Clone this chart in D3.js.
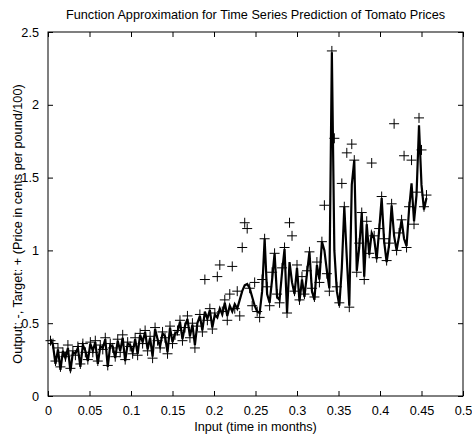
<!DOCTYPE html>
<html>
<head>
<meta charset="utf-8">
<script src="https://cdn.jsdelivr.net/npm/d3@7"></script>
<style>
body { margin: 0; background: #fff; }
text { font-family: "Liberation Sans", Arial, sans-serif; fill: #000; }
</style>
</head>
<body>
<div id="chart"></div>
<script>
// input (time in months)
var inputX = [
	0.003,0.006,0.009,0.012,0.015,0.018,0.021,0.024,0.027,0.030,0.033,0.036,0.039,0.042,0.045,0.048,0.051,
	0.054,0.057,0.060,0.063,0.066,0.069,0.072,0.075,0.078,0.081,0.084,0.087,0.090,0.093,0.096,0.099,0.102,
	0.105,0.108,0.111,0.114,0.117,0.120,0.123,0.126,0.129,0.132,0.135,0.138,0.141,0.144,0.147,0.150,0.153,
	0.156,0.159,0.162,0.165,0.168,0.171,0.174,0.177,0.180,0.183,0.186,0.189,0.192,0.195,0.198,0.201,0.204,
	0.207,0.210,0.213,0.216,0.219,0.222,0.225,0.228,0.231,0.234,0.237,0.240,0.243,0.246,0.249,0.252,0.255,
	0.258,0.261,0.264,0.267,0.270,0.273,0.276,0.279,0.282,0.285,0.288,0.291,0.294,0.297,0.300,0.303,0.306,
	0.309,0.312,0.315,0.318,0.321,0.324,0.327,0.330,0.333,0.336,0.339,0.342,0.345,0.348,0.351,0.354,0.357,
	0.360,0.363,0.366,0.369,0.372,0.375,0.378,0.381,0.384,0.387,0.390,0.393,0.396,0.399,0.402,0.405,0.408,
	0.411,0.414,0.417,0.420,0.423,0.426,0.429,0.432,0.435,0.438,0.441,0.444,0.447,0.450,0.453,0.456
];

// target (+)
var targetY = [
	0.38,0.36,0.24,0.33,0.20,0.30,0.27,0.35,0.19,0.31,0.28,0.34,0.22,0.36,0.30,0.25,0.37,
	0.30,0.38,0.24,0.35,0.32,0.40,0.21,0.36,0.33,0.27,0.39,0.30,0.42,0.25,0.37,0.34,0.29,
	0.40,0.28,0.43,0.36,0.45,0.31,0.41,0.26,0.47,0.38,0.33,0.44,0.40,0.29,0.48,0.36,0.42,
	0.45,0.52,0.38,0.47,0.55,0.40,0.50,0.33,0.48,0.56,0.44,0.80,0.52,0.60,0.46,0.57,0.82,
	0.90,0.58,0.66,0.52,0.70,0.89,0.60,0.72,0.55,1.02,1.19,1.15,0.74,0.62,0.78,0.58,0.54,
	0.80,1.08,0.75,0.62,0.85,0.98,0.70,0.64,0.88,1.02,0.57,1.19,1.10,0.72,0.90,0.66,0.82,
	0.70,0.86,0.99,0.74,0.68,0.92,0.78,1.06,1.31,0.84,0.72,2.37,1.77,0.75,0.64,1.46,1.30,
	1.67,0.61,1.73,1.62,0.85,1.05,1.26,0.80,1.20,0.98,1.60,1.10,0.95,1.15,1.37,1.08,0.93,
	1.05,1.32,1.87,1.00,1.12,1.21,1.65,1.02,1.30,1.62,1.18,1.40,1.91,1.69,1.30,1.38
];

// network output (-)
var outputY = [
	0.39,0.35,0.22,0.32,0.18,0.31,0.26,0.33,0.17,0.30,0.29,0.33,0.20,0.35,0.31,0.24,0.36,
	0.31,0.37,0.22,0.34,0.33,0.39,0.20,0.35,0.34,0.26,0.38,0.31,0.40,0.24,0.36,0.35,0.30,
	0.39,0.29,0.42,0.37,0.44,0.32,0.40,0.27,0.46,0.39,0.34,0.43,0.41,0.30,0.47,0.37,0.43,
	0.44,0.51,0.39,0.48,0.53,0.41,0.49,0.35,0.50,0.55,0.45,0.58,0.53,0.59,0.47,0.56,0.54,
	0.60,0.56,0.64,0.55,0.62,0.58,0.63,0.60,0.66,0.72,0.76,0.77,0.74,0.68,0.62,0.58,0.57,
	0.72,1.08,0.70,0.64,0.80,0.98,0.68,0.66,0.85,1.01,0.57,0.92,0.78,0.70,0.88,0.65,0.80,
	0.68,0.84,0.99,0.72,0.66,0.90,0.80,1.06,1.00,0.86,0.74,2.36,1.00,0.72,0.62,0.88,1.30,
	0.95,0.62,1.45,1.62,0.86,1.02,1.26,0.82,1.18,0.97,1.12,1.08,0.94,1.14,1.36,1.06,0.92,
	1.04,1.31,1.10,1.00,1.10,1.21,1.08,1.03,1.28,1.46,1.20,1.38,1.86,1.45,1.28,1.36
];

var xTicks = [0,0.05,0.1,0.15,0.2,0.25,0.3,0.35,0.4,0.45,0.5],
	xTickLabels = ['0','0.05','0.1','0.15','0.2','0.25','0.3','0.35','0.4','0.45','0.5'];
var yTicks = [0,0.5,1,1.5,2,2.5],
	yTickLabels = ['0','0.5','1','1.5','2','2.5'];

var svgWidth = 472,
	svgHeight = 437;

var margin = { t:32, r:9, b:41, l:48 };

var width = svgWidth - margin.l - margin.r,
	height = svgHeight - margin.t - margin.b;

var fontSize = '12.7px';

var svg = d3.select('#chart')
	.append('svg')
	.attr('width', svgWidth)
	.attr('height', svgHeight);

var chartGroup = svg.append('g')
	.attr('transform', `translate(${margin.l},${margin.t})`);

var xScale = d3.scaleLinear().domain([0, 0.5]).range([0, width]),
	yScale = d3.scaleLinear().domain([0, 2.5]).range([height, 0]);

var data = inputX.map((x, i) => ({ x: x, t: targetY[i], o: outputY[i] }));

// targets
chartGroup.append('g').selectAll('path')
	.data(data)
	.enter()
	.append('path')
	.attr('transform', d => `translate(${xScale(d.x)},${yScale(d.t)})`)
	.attr('d', 'M-5,0H5M0,-5V5')
	.attr('stroke', '#000')
	.attr('stroke-width', 1)
	.attr('fill', 'none');

// output
var line = d3.line()
	.x(d => xScale(d.x))
	.y(d => yScale(d.o));

chartGroup.append('path')
	.datum(data)
	.attr('d', line)
	.attr('fill', 'none')
	.attr('stroke', '#000')
	.attr('stroke-width', 2.2)
	.attr('stroke-linejoin', 'miter');

// axes, MATLAB style box with inward ticks
var tickLen = 5;

chartGroup.append('g')
	.attr('transform', `translate(0,${height})`)
	.call(d3.axisBottom(xScale).tickValues(xTicks)
		.tickFormat((d, i) => xTickLabels[i])
		.tickSizeInner(-tickLen).tickSizeOuter(0).tickPadding(10));

chartGroup.append('g')
	.call(d3.axisTop(xScale).tickValues(xTicks).tickFormat('')
		.tickSizeInner(-tickLen).tickSizeOuter(0));

chartGroup.append('g')
	.call(d3.axisLeft(yScale).tickValues(yTicks)
		.tickFormat((d, i) => yTickLabels[i])
		.tickSizeInner(-tickLen).tickSizeOuter(0).tickPadding(9));

chartGroup.append('g')
	.attr('transform', `translate(${width},0)`)
	.call(d3.axisRight(yScale).tickValues(yTicks).tickFormat('')
		.tickSizeInner(-tickLen).tickSizeOuter(0));

chartGroup.selectAll('.domain').remove();
chartGroup.selectAll('.tick line').attr('stroke', '#000');
chartGroup.selectAll('.tick text')
	.style('font-size', fontSize)
	.style('font-family', '"Liberation Sans", Arial, sans-serif');

chartGroup.append('rect')
	.attr('width', width)
	.attr('height', height)
	.attr('fill', 'none')
	.attr('stroke', '#000')
	.attr('stroke-width', 1);

// labels
svg.append('text')
	.attr('x', margin.l + width / 2)
	.attr('y', 19)
	.attr('text-anchor', 'middle')
	.style('font-size', fontSize)
	.text('Function Approximation for Time Series Prediction of Tomato Prices');

svg.append('text')
	.attr('x', margin.l + width / 2)
	.attr('y', 431)
	.attr('text-anchor', 'middle')
	.style('font-size', fontSize)
	.text('Input (time in months)');

svg.append('text')
	.attr('transform', `translate(22,${margin.t + height / 2 + 10})rotate(-90)`)
	.attr('text-anchor', 'middle')
	.style('font-size', fontSize)
	.text('Output: -, Target: + (Price in cents per pound/100)');
</script>
</body>
</html>
